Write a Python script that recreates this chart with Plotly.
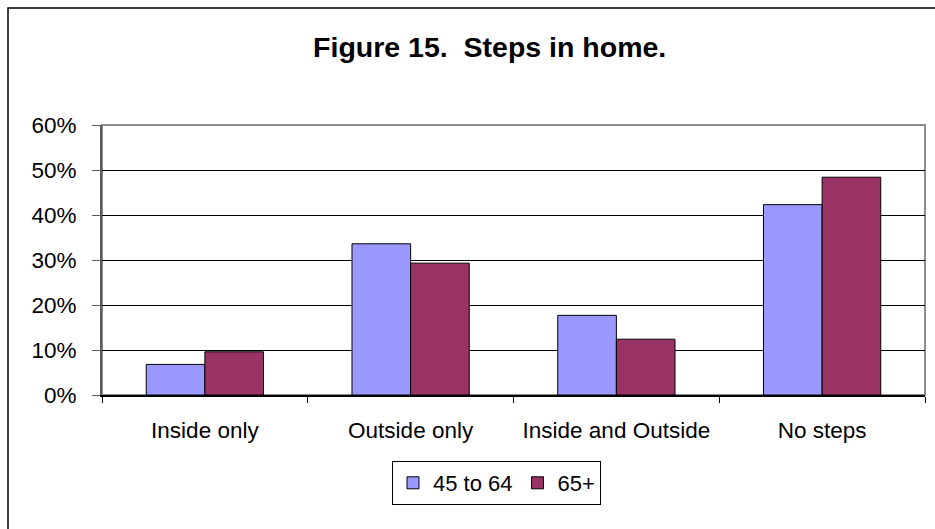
import plotly.graph_objects as go

# Share of respondents by type of steps in the home, by age group
categories = ["Inside only", "Outside only", "Inside and Outside", "No steps"]
age_45_64 = [0.068, 0.336, 0.177, 0.423]
age_65_plus = [0.096, 0.293, 0.124, 0.484]
series_names = ["45 to 64", "65+"]
y_ticks = [0.0, 0.1, 0.2, 0.3, 0.4, 0.5, 0.6]

W, H = 935, 529
FONT = "Liberation Sans, Arial, sans-serif"

# plot area in pixels
L, R, T, B = 102, 925, 125, 395
pw, ph = R - L, B - T


def px_x(x):
    return (x - L) / pw


def px_y(y):
    return (B - y) / ph


fig = go.Figure()
fig.add_trace(go.Bar(
    x=categories, y=age_45_64, name=series_names[0],
    marker=dict(color="#9999FF", line=dict(color="#000000", width=1)),
))
fig.add_trace(go.Bar(
    x=categories, y=age_65_plus, name=series_names[1],
    marker=dict(color="#993366", line=dict(color="#000000", width=1)),
))

fig.update_layout(
    width=W, height=H,
    margin=dict(l=L, r=W - R, t=T, b=H - B, pad=0),
    paper_bgcolor="#FFFFFF",
    plot_bgcolor="#FFFFFF",
    barmode="group",
    bargap=0.43,
    bargroupgap=0,
    font=dict(family=FONT, size=22, color="#000000"),
    title=dict(
        text="Figure 15.\u00a0 Steps in home.",
        font=dict(family=FONT, size=28.5, color="#000000", weight="bold"),
        x=489.7 / W, xanchor="center", xref="container",
        y=1 - 46.7 / H, yanchor="middle", yref="container",
    ),
    showlegend=True,
    legend=dict(
        orientation="h",
        x=px_x(496.5), xanchor="center",
        y=px_y(461), yanchor="top",
        bordercolor="#000000", borderwidth=1,
        bgcolor="#FFFFFF",
        font=dict(family=FONT, size=22, color="#000000"),
        traceorder="normal",
    ),
    xaxis=dict(
        type="category",
        showline=True, linecolor="#000000", linewidth=1.5,
        ticks="outside", tickson="boundaries", ticklen=6,
        tickcolor="#000000", tickwidth=1,
        showgrid=False,
        tickfont=dict(family=FONT, size=22.5, color="#000000"),
        ticklabelstandoff=14,
    ),
    yaxis=dict(
        range=[0, 0.6],
        tickvals=y_ticks,
        tickformat=".0%",
        showline=True, linecolor="#5A5A5A", linewidth=2,
        ticks="outside", ticklen=8, tickcolor="#5A5A5A", tickwidth=1,
        showgrid=True, gridcolor="#000000", gridwidth=1,
        zeroline=False,
        tickfont=dict(family=FONT, size=22.5, color="#000000"),
        ticklabelstandoff=11,
    ),
    shapes=[
        # plot-area frame
        dict(type="rect", xref="paper", yref="paper", x0=0, x1=1, y0=0, y1=1,
             line=dict(color="#8C8C8C", width=2), layer="below"),
        # chart-area border (runs off the right and bottom edges)
        dict(type="rect", xref="paper", yref="paper",
             x0=px_x(8), x1=1.3, y0=-1.2, y1=px_y(8),
             line=dict(color="#000000", width=1.5), layer="below"),
    ],
)

fig.write_html("out.html", config={"displayModeBar": False})
